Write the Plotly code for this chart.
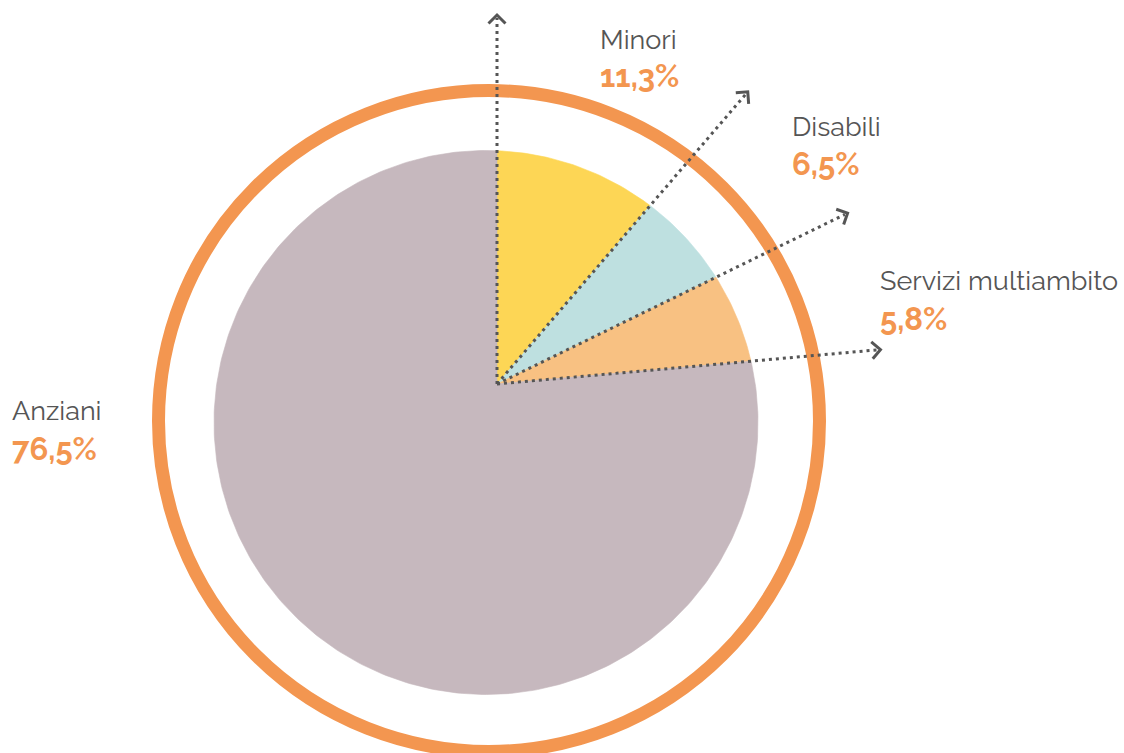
import numpy as np
import plotly.graph_objects as go

# data
categories = ["Minori", "Disabili", "Servizi multiambito", "Anziani"]
values = [11.3, 6.5, 5.8, 76.5]
pct_labels = ["11,3%", "6,5%", "5,8%", "76,5%"]
slice_colors = ["#FDD655", "#BEE0E0", "#F8C182", "#C6B8BE"]

# layout of the drawing (pixel space, y goes down)
W, H = 1124, 753
APEX = (497, 384)          # where the slices meet
CENTER = (486, 422.5)      # centre of the pie disc
R = 272
RING_C = (489, 421)
RING_R = 330.5
arrow_len = [369, 385, 390, 385]
label_x = [598, 790, 878, 10]
name_y = [39, 126, 280, 410]
pct_y = [76, 164, 319, 449]

GREY = "#555555"
ORANGE = "#F39650"
FONT = "Raleway, Lato, sans-serif"


def ray_hit(phi):
    # angle (around CENTER) where the ray from APEX at angle phi meets the disc edge
    dx, dy = np.sin(phi), -np.cos(phi)
    wx, wy = APEX[0] - CENTER[0], APEX[1] - CENTER[1]
    b = wx * dx + wy * dy
    t = -b + np.sqrt(b * b - (wx * wx + wy * wy) + R * R)
    px, py = APEX[0] + t * dx, APEX[1] + t * dy
    return np.arctan2(px - CENTER[0], -(py - CENTER[1]))


total = sum(values)
cum = np.concatenate([[0], np.cumsum(values)]) / total * 2 * np.pi

fig = go.Figure()

for i, cat in enumerate(categories):
    th0 = ray_hit(cum[i])
    th1 = ray_hit(cum[i + 1])
    if th1 <= th0:
        th1 += 2 * np.pi
    n = max(3, int((th1 - th0) / (2 * np.pi) * 400))
    th = np.linspace(th0, th1, n)
    xs = np.concatenate([[APEX[0]], CENTER[0] + R * np.sin(th), [APEX[0]]])
    ys = np.concatenate([[APEX[1]], CENTER[1] - R * np.cos(th), [APEX[1]]])
    fig.add_trace(go.Scatter(
        x=xs, y=ys, mode="lines", fill="toself", fillcolor=slice_colors[i],
        line=dict(color=slice_colors[i], width=0.6),
        name=cat, hoverinfo="text", text=f"{cat}: {pct_labels[i]}", showlegend=False
    ))

# dotted arrows along the slice boundaries
for i in range(len(categories)):
    phi = cum[i]
    dx, dy = np.sin(phi), -np.cos(phi)
    L = arrow_len[i]
    tx, ty = APEX[0] + L * dx, APEX[1] + L * dy
    fig.add_trace(go.Scatter(
        x=[APEX[0], tx - 3 * dx], y=[APEX[1], ty - 3 * dy], mode="lines",
        line=dict(color=GREY, width=3, dash="3px,4px"),
        hoverinfo="skip", showlegend=False
    ))
    arm = 12
    bx, by = -dx, -dy
    pts_x, pts_y = [], []
    for a in (np.pi / 4, -np.pi / 4):
        rx = bx * np.cos(a) - by * np.sin(a)
        ry = bx * np.sin(a) + by * np.cos(a)
        pts_x.append(tx + arm * rx)
        pts_y.append(ty + arm * ry)
    fig.add_trace(go.Scatter(
        x=[pts_x[0], tx, pts_x[1]], y=[pts_y[0], ty, pts_y[1]], mode="lines",
        line=dict(color=GREY, width=3), hoverinfo="skip", showlegend=False
    ))

# outer orange ring
fig.add_shape(
    type="circle", xref="x", yref="y", layer="below",
    x0=RING_C[0] - RING_R, x1=RING_C[0] + RING_R,
    y0=RING_C[1] - RING_R, y1=RING_C[1] + RING_R,
    line=dict(color=ORANGE, width=13)
)

for i, cat in enumerate(categories):
    fig.add_annotation(
        x=label_x[i], y=name_y[i], text=cat, showarrow=False,
        xanchor="left", yanchor="middle",
        font=dict(family=FONT, size=27, color=GREY)
    )
    fig.add_annotation(
        x=label_x[i], y=pct_y[i], text=f"<b>{pct_labels[i]}</b>", showarrow=False,
        xanchor="left", yanchor="middle",
        font=dict(family=FONT, size=31, color=ORANGE)
    )

fig.update_layout(
    width=W, height=H,
    margin=dict(l=0, r=0, t=0, b=0),
    paper_bgcolor="white", plot_bgcolor="white",
    xaxis=dict(range=[0, W], visible=False, fixedrange=True),
    yaxis=dict(range=[H, 0], visible=False, fixedrange=True),
    showlegend=False
)

# drop the default page margin so the figure fills the window exactly
fig.write_html(
    "out.html",
    config={"displayModeBar": False},
    post_script="document.body.style.margin='0';document.body.style.overflow='hidden';"
)
